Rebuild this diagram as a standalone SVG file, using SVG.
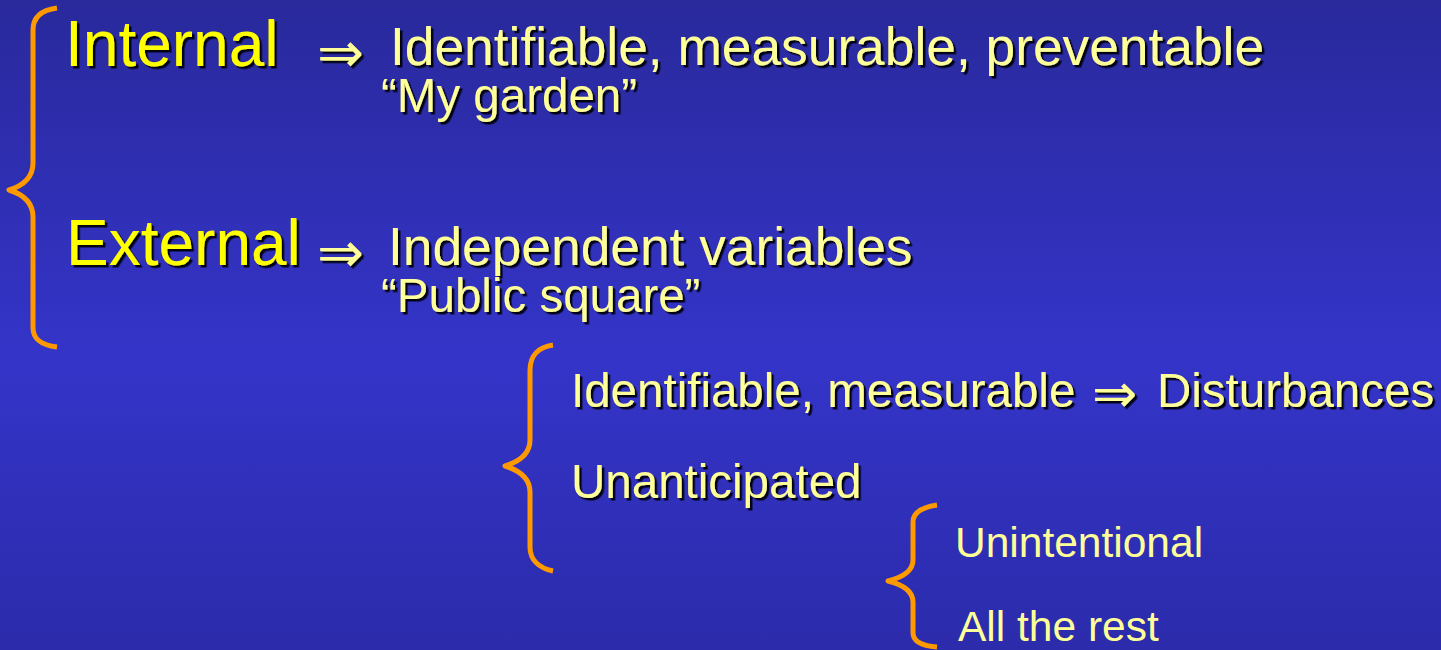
<svg xmlns="http://www.w3.org/2000/svg" width="1441" height="650" viewBox="0 0 1441 650">
  <defs>
    <linearGradient id="bg" x1="0" y1="0" x2="0" y2="1">
      <stop offset="0" stop-color="#29299c"/>
      <stop offset="0.55" stop-color="#3434c9"/>
      <stop offset="1" stop-color="#2b2bab"/>
    </linearGradient>
    <filter id="shadow" x="-5%" y="-20%" width="110%" height="140%">
      <feDropShadow dx="2.5" dy="2.5" stdDeviation="0.4" flood-color="#000010" flood-opacity="0.95"/>
    </filter>
  </defs>
  <style>
    text { font-family: "Liberation Sans", Arial, sans-serif; }
    .head { fill: #ffff00; font-size: 64px; filter: url(#shadow); }
    .body { fill: #ffff99; font-size: 53.3px; filter: url(#shadow); }
    .sub { fill: #ffff99; font-size: 47.5px; filter: url(#shadow); }
    .plain { fill: #ffff99; font-size: 42.5px; }
    .arrow { font-family: "DejaVu Sans", sans-serif; fill: #ffff99; filter: url(#shadow); }
    .brace { fill: none; stroke: #ff9900; stroke-width: 5; stroke-linejoin: round; }
  </style>

  <rect width="1441" height="650" fill="url(#bg)"/>

  <!-- curly braces grouping the levels -->
  <g id="connectors">
    <path class="brace" d="M57,8 C42,10 33,17 33,30 L33,163 C33,178 22,186 9,190 C22,194 33,202 33,217 L33,328 C33,340 42,345 57,347"/>
    <path class="brace" d="M553,345 C539,347 530,355 530,370 L530,440 C530,455 518,462 505,466 C518,470 530,478 530,492 L530,547 C530,560 539,568 553,571"/>
    <path class="brace" d="M937,505 C924,507 913,512 913,522 L913,560 C913,572 900,578 888,581 C900,584 913,590 913,602 L913,633 C913,642 924,646 937,647"/>
  </g>

  <g id="internal">
    <text class="head" x="65" y="66">Internal</text>
    <text class="arrow" x="317" y="72" font-size="56">⇒</text>
    <text class="body" x="390" y="65">Identifiable, measurable, preventable</text>
    <text class="sub" x="381" y="112">“My garden”</text>
  </g>

  <g id="external">
    <text class="head" x="66" y="265">External</text>
    <text class="arrow" x="317" y="272" font-size="56">⇒</text>
    <text class="body" x="388" y="265">Independent variables</text>
    <text class="sub" x="381" y="312">“Public square”</text>
  </g>

  <g id="identifiable">
    <text class="sub" x="571" y="407">Identifiable, measurable</text>
    <text class="arrow" x="1092" y="412" font-size="54">⇒</text>
    <text class="sub" x="1157" y="407">Disturbances</text>
  </g>

  <g id="unanticipated">
    <text class="sub" x="571" y="498">Unanticipated</text>
  </g>

  <g id="unintentional">
    <text class="plain" x="955" y="557">Unintentional</text>
  </g>

  <g id="rest">
    <text class="plain" x="958" y="641">All the rest</text>
  </g>
</svg>
